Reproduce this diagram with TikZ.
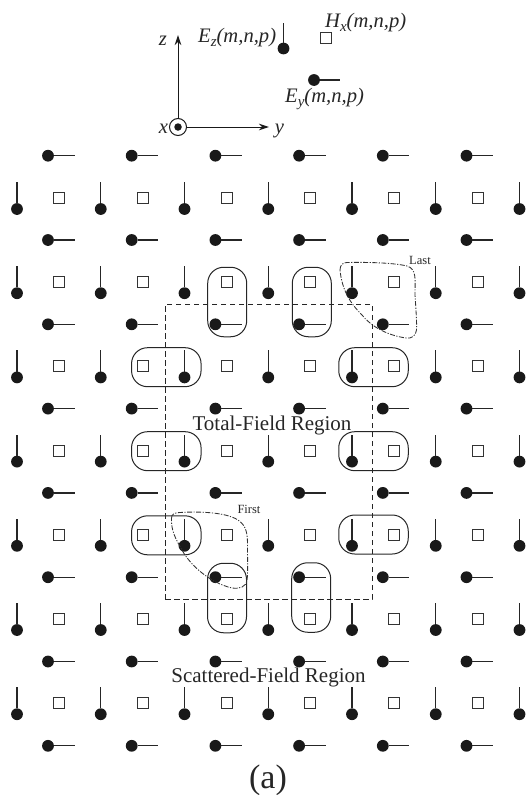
\documentclass[tikz,border=0pt]{standalone}
\usepackage{fontspec}
\setmainfont{Liberation Serif}
\newcommand{\fieldlab}[2]{\textit{#1\raisebox{-4pt}{\fontsize{15}{15}\selectfont #2}(m,n,p)}}
\usetikzlibrary{arrows.meta}
\tikzset{
  dotmark/.style={circle,fill=black!90,draw=none,minimum size=11.8pt,inner sep=0pt,outer sep=0pt},
  stemline/.style={line width=1.2pt,black!85},
  hmark/.style={rectangle,draw=black!80,line width=1pt,minimum size=11pt,inner sep=0pt},
  loopbox/.style={rectangle,draw=black!85,line width=1pt,rounded corners=16pt,inner sep=0pt},
  vbox/.style={loopbox,minimum width=39pt,minimum height=69.5pt},
  hbox/.style={loopbox,minimum width=69.5pt,minimum height=39pt},
  tfbox/.style={rectangle,draw=black!85,line width=1pt,dash pattern=on 5.5pt off 3.5pt,inner sep=0pt,minimum width=207pt,minimum height=295pt},
  orderline/.style={line width=0.85pt,black!80,dash pattern=on 5pt off 1.5pt on 1.2pt off 1.5pt},
  axisline/.style={line width=1pt,black!90,-{Stealth[length=10pt,width=6.5pt]}},
  lab/.style={inner sep=0pt,text=black!85},
  fieldtext/.style={lab,font=\fontsize{20.6}{20.6}\selectfont},
  axistext/.style={lab,font=\fontsize{20.6}{20.6}\selectfont\itshape},
  regiontext/.style={lab,font=\fontsize{21}{21}\selectfont},
  smalltext/.style={lab,font=\fontsize{12.5}{12.5}\selectfont}
}
\begin{document}
\begin{tikzpicture}[x=1pt,y=-1pt]
\useasboundingbox (0,0) rectangle (526,795);
% grid
\foreach \j in {0,...,7}{
  \foreach \i in {0,...,5}{
    \pgfmathsetmacro{\px}{48+83.7*\i}
    \pgfmathsetmacro{\py}{155.7+84.3*\j}
    \node[dotmark] (ey\i\j) at (\px,\py) {};
    \coordinate (eyend\i\j) at (\px+26.5,\py);
    \draw[stemline] (ey\i\j) -- (eyend\i\j);
  }
}
\foreach \j in {0,...,6}{
  \foreach \i in {0,...,6}{
    \pgfmathsetmacro{\px}{17+83.75*\i}
    \pgfmathsetmacro{\py}{209+84.2*\j}
    \node[dotmark] (ez\i\j) at (\px,\py) {};
    \coordinate (ezend\i\j) at (\px,\py-27);
    \draw[stemline] (ez\i\j) -- (ezend\i\j);
  }
  \foreach \i in {0,...,5}{
    \pgfmathsetmacro{\px}{59+83.75*\i}
    \pgfmathsetmacro{\py}{198+84.2*\j}
    \node[hmark] (hx\i\j) at (\px,\py) {};
  }
}
% total-field boundary
\node[tfbox] (tf) at (268.5,451.5) {};
% connecting loops
\node[vbox] (v1) at (227.2,302) {};
\node[vbox] (v2) at (311.8,302) {};
\node[vbox] (v3) at (227,598) {};
\node[vbox] (v4) at (311.2,597.5) {};
\node[hbox] (h1) at (166.3,367.2) {};
\node[hbox] (h2) at (373.5,367.2) {};
\node[hbox] (h3) at (166.3,451.2) {};
\node[hbox] (h4) at (373.5,451.2) {};
\node[hbox] (h5) at (166.3,535.3) {};
\node[hbox] (h6) at (373.5,534.5) {};
% last / first traversal curves
\draw[orderline] (340,270) .. controls (340,265) and (343,262.5) .. (347,262.5)
  .. controls (370,262) and (395,263) .. (407,266)
  .. controls (417,269) and (415,280) .. (415,295)
  .. controls (416,310) and (417,325) .. (416.5,330)
  .. controls (416,336) and (411,339) .. (406,338)
  .. controls (385,335) and (370,325) .. (362,315)
  .. controls (350,303) and (342,290) .. (340,270);
\draw[orderline] (171.5,518) .. controls (171.5,514) and (175,512.5) .. (180,512.5)
  .. controls (195,511.5) and (225,511.5) .. (238,520)
  .. controls (247,526) and (247.5,535) .. (247.5,545)
  .. controls (247.5,560) and (248,575) .. (247,580)
  .. controls (246,587) and (240,589) .. (232,588)
  .. controls (210,583) and (190,565) .. (182,550)
  .. controls (175,538) and (171,530) .. (171.5,518);
% axes
\node[circle,draw=black!90,line width=1pt,minimum size=17pt,inner sep=0pt] (orig) at (178,127) {};
\node[circle,fill=black!90,minimum size=7.5pt,inner sep=0pt] (origdot) at (178,127) {};
\coordinate (ztip) at (178,35);
\coordinate (ytip) at (269,127);
\draw[axisline] (orig) -- (ztip);
\draw[axisline] (orig) -- (ytip);
\node[axistext,anchor=base] (zlab) at (163,45) {z};
\node[axistext,anchor=base] (ylab) at (279.5,133) {y};
\node[axistext,anchor=base] (xlab) at (163.5,133) {x};
% legend
\node[dotmark] (lez) at (283.5,48.5) {};
\coordinate (lezend) at (283.5,22.5);
\draw[stemline] (lez) -- (lezend);
\node[hmark] (lhx) at (325.5,37.5) {};
\node[dotmark] (ley) at (314,80) {};
\coordinate (leyend) at (340,80);
\draw[stemline] (ley) -- (leyend);
\node[fieldtext,anchor=base west] (lezt) at (198,42.5) {\fieldlab{E}{z}};
\node[fieldtext,anchor=base west] (lhxt) at (325,27.5) {\fieldlab{H}{x}};
\node[fieldtext,anchor=base west] (leyt) at (285,102.5) {\fieldlab{E}{y}};
% region labels
\node[regiontext,anchor=base] (tft) at (272,430) {Total-Field Region};
\node[regiontext,anchor=base] (sft) at (268.5,682) {Scattered-Field Region};
\node[smalltext] (lastt) at (420,260.5) {Last};
\node[smalltext] (firstt) at (249,509.5) {First};
\node[lab,anchor=base,font=\fontsize{34}{34}\selectfont] (cap) at (268,788) {(a)};
\end{tikzpicture}
\end{document}
